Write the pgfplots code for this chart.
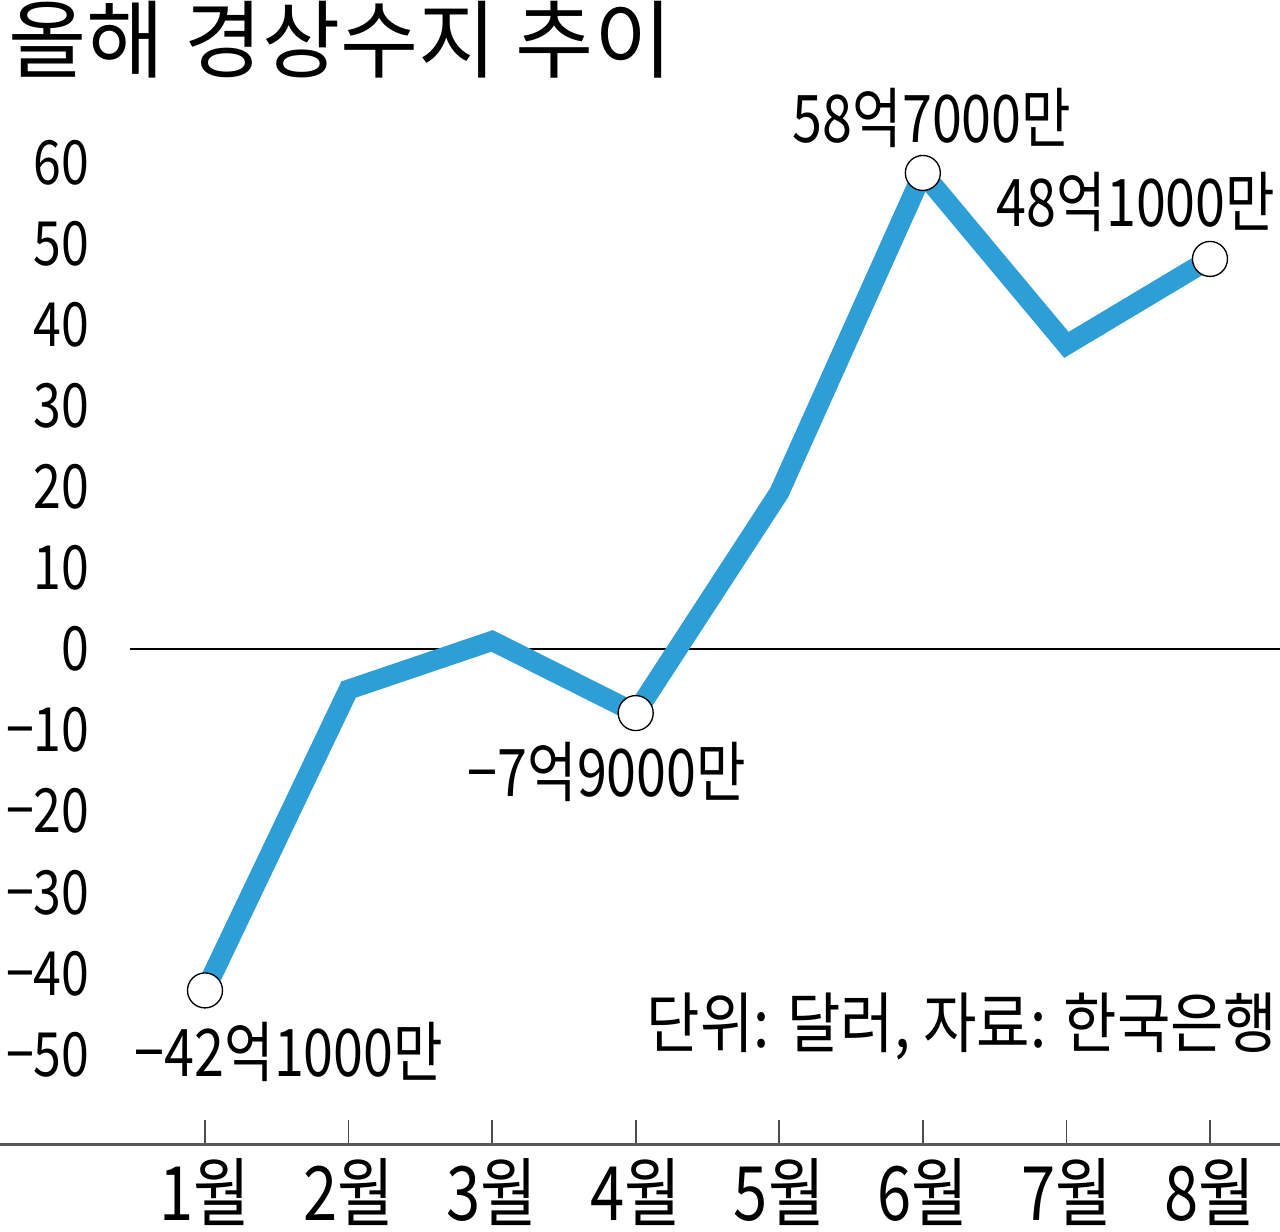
\documentclass[border=0pt]{standalone}
\usepackage{fontspec}
\setmainfont{Noto Sans CJK KR}[FakeStretch=0.82]
\newfontfamily\titlefont{Noto Sans CJK KR}
\newfontfamily\notefont{Noto Sans CJK KR}[FakeStretch=0.88]
\usepackage{pgfplots}
\pgfplotsset{compat=1.18}
\definecolor{lineblue}{HTML}{2E9FD6}
\begin{document}
\begin{tikzpicture}[x=1pt,y=1pt]
\path[use as bounding box] (0,-26.1) rectangle (384,343.5);
\begin{axis}[
  at={(0,0)}, anchor=south west,
  scale only axis, width=384pt, height=319.1pt,
  xmin=-0.4279, xmax=8.4876, ymin=-61.16, ymax=70,
  axis x line=bottom, axis y line=left,
  x axis line style={-, draw=black!65, line width=0.9pt},
  y axis line style={draw=none},
  tick align=inside,
  major tick length=7.5pt,
  xtick={1,2,3,4,5,6,7,8},
  xticklabels={1월,2월,3월,4월,5월,6월,7월,8월},
  xtick style={draw=black!70, line width=0.5pt},
  xticklabel style={anchor=north, inner sep=0pt, yshift=-4pt, font=\fontsize{22.5}{24}\selectfont},
  ytick={-50,-40,-30,-20,-10,0,10,20,30,40,50,60},
  yticklabels={−50,−40,−30,−20,−10,0,10,20,30,40,50,60},
  ytick style={draw=none},
  yticklabel style={anchor=east, inner sep=0pt, xshift=27pt, font=\fontsize{18.3}{20}\selectfont},
  clip=false,
]
\addplot[black, line width=0.6pt] coordinates {(0.4776,0) (8.4876,0)};
\addplot[lineblue, line width=6pt, line join=miter] coordinates {(1,-42.1)(2,-5.0)(3,1.0)(4,-7.9)(5,19.3)(6,58.7)(7,37.5)(8,48.1)};
\addplot[only marks, mark=*, mark size=5.25pt, mark options={fill=white, draw=black, line width=0.4pt}] coordinates {(1,-42.1)(4,-7.9)(6,58.7)(8,48.1)};
\node[anchor=west, inner sep=0pt, font=\titlefont\fontsize{25.5}{28}\selectfont] at (axis cs:-0.372,75.1) {올해 경상수지 추이};
\node[inner sep=0pt, font=\fontsize{19.7}{21}\selectfont] at (axis cs:6.064,65.47) {58억7000만};
\node[inner sep=0pt, font=\fontsize{19.7}{21}\selectfont] at (axis cs:7.485,55.1) {48억1000만};
\node[inner sep=0pt, font=\fontsize{19.7}{21}\selectfont] at (axis cs:3.800,-15.17) {−7억9000만};
\node[inner sep=0pt, font=\fontsize{19.7}{21}\selectfont] at (axis cs:1.585,-49.7) {−42억1000만};
\node[anchor=east, inner sep=0pt, font=\notefont\fontsize{19.8}{21}\selectfont] at (axis cs:8.474,-46.6) {단위: 달러, 자료: 한국은행};
\end{axis}
\end{tikzpicture}
\end{document}
